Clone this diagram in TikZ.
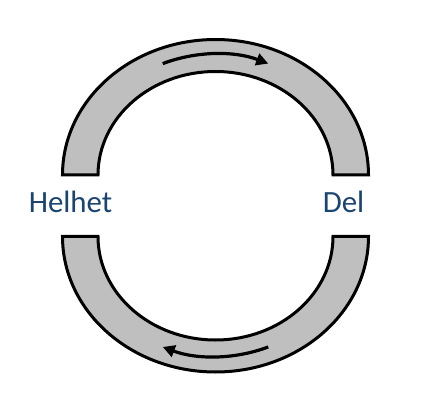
\documentclass[tikz,border=0pt]{standalone}
\usepackage{fontspec}
\setmainfont{Carlito}
\usepackage{tikz}
\usetikzlibrary{arrows.meta}
\definecolor{labelblue}{HTML}{1B4470}
\definecolor{bandgray}{HTML}{BFBFBF}

\begin{document}
\begin{tikzpicture}[x=1bp,y=1bp,
    band/.style={draw=black,fill=bandgray,line width=3bp,line join=miter},
    turn/.style={line width=3.2bp,-{Triangle[length=12bp,width=12bp]}},
    word/.style={text=labelblue,font=\fontsize{31}{36}\selectfont,anchor=base,inner sep=0pt}]
  \useasboundingbox (0,0) rectangle (428,407);
  % upper and lower band
  \draw[band] (62.5,232) arc[start angle=180,end angle=0,x radius=153,y radius=135.5]
    -- (333,232) arc[start angle=0,end angle=180,x radius=117.5,y radius=103.5] -- cycle;
  \draw[band] (62.5,170.5) arc[start angle=180,end angle=360,x radius=153,y radius=135.5]
    -- (333,170.5) arc[start angle=360,end angle=180,x radius=117.5,y radius=103.5] -- cycle;
  % arrows
  \draw[turn] (215.5,232) ++(113:135 and 121) arc[start angle=113,end angle=67,x radius=135,y radius=121];
  \draw[turn] (215.5,170.5) ++(-67:135 and 120) arc[start angle=-67,end angle=-113,x radius=135,y radius=120];
  % labels
  \node[word] (whole) at (70.5,195) {Helhet};
  \node[word] (part) at (343.5,195) {Del};
\end{tikzpicture}
\end{document}
